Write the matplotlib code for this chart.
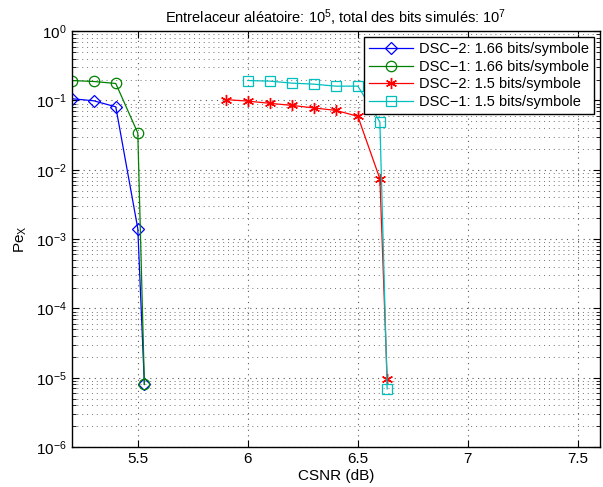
import numpy as np
import matplotlib.pyplot as plt

plt.rcParams['font.family'] = ['Liberation Sans', 'DejaVu Sans']
plt.rcParams['mathtext.default'] = 'regular'

# ---------------------------------------------------------------------------------------
# data
csnr_a = [5.2, 5.3, 5.4, 5.5, 5.53]
pe_dsc2_166 = [0.106, 0.099, 0.081, 1.42e-3, 8.0e-6]
pe_dsc1_166 = [0.194, 0.188, 0.176, 0.034, 8.0e-6]

csnr_dsc2_15 = [5.9, 6.0, 6.1, 6.2, 6.3, 6.4, 6.5, 6.6, 6.633]
pe_dsc2_15 = [0.103, 0.098, 0.091, 0.085, 0.078, 0.072, 0.059, 7.4e-3, 9.6e-6]

csnr_dsc1_15 = [6.0, 6.1, 6.2, 6.3, 6.4, 6.5, 6.6, 6.633]
pe_dsc1_15 = [0.194, 0.190, 0.178, 0.172, 0.161, 0.161, 0.049, 6.9e-6]

labels = ["DSC\u22122: 1.66 bits/symbole", "DSC\u22121: 1.66 bits/symbole",
          "DSC\u22122: 1.5 bits/symbole", "DSC\u22121: 1.5 bits/symbole"]
xticks = [5.5, 6, 6.5, 7, 7.5]

# ---------------------------------------------------------------------------------------
fig = plt.figure(figsize=(6.03, 4.87), dpi=100)
ax = fig.add_axes([0.119, 0.082, 0.876, 0.854])

lw = 0.9
ax.semilogy(csnr_a, pe_dsc2_166, color='b', marker='D', mfc='none', ms=6, mew=0.9, lw=lw, label=labels[0])
ax.semilogy(csnr_a, pe_dsc1_166, color=(0, 0.5, 0), marker='o', mfc='none', ms=7.5, mew=0.9, lw=lw, label=labels[1])
ax.semilogy(csnr_dsc2_15, pe_dsc2_15, color='r', marker=(6, 2, 0), ms=8, mew=1.0, lw=lw, label=labels[2])
ax.semilogy(csnr_dsc1_15, pe_dsc1_15, color=(0, 0.75, 0.75), marker='s', mfc='none', ms=6.5, mew=0.9, lw=lw, label=labels[3])

ax.set_xlim(5.2, 7.6)
ax.set_ylim(1e-6, 1)
ax.set_xticks(xticks)
ax.set_xticklabels([f"{t:g}" for t in xticks])

dots = (0, (1, 4))
ax.grid(True, which='major', axis='both', linestyle=dots, color='0.35', lw=0.8)
ax.grid(True, which='minor', axis='y', linestyle=dots, color='0.45', lw=0.7)
ax.tick_params(which='both', direction='in', top=True, right=True, labelsize=11)
ax.tick_params(which='major', length=5)
ax.tick_params(which='minor', length=3)
for s in ax.spines.values():
    s.set_linewidth(1.0)

ax.set_xlabel("CSNR (dB)", fontsize=11, labelpad=2)
ax.set_ylabel("Pe$_X$", fontsize=11)
ax.yaxis.set_label_coords(-0.08, 0.5)
ax.set_title("Entrelaceur aléatoire: 10$^5$, total des bits simulés: 10$^7$", fontsize=10.5)

leg = ax.legend(loc='upper right', fontsize=10.5, fancybox=False, framealpha=1,
                edgecolor='k', borderaxespad=0.4, handlelength=3.0,
                borderpad=0.35, labelspacing=0.25, handletextpad=0.4)
leg.get_frame().set_linewidth(1.0)

plt.savefig("out.png", dpi=100)
